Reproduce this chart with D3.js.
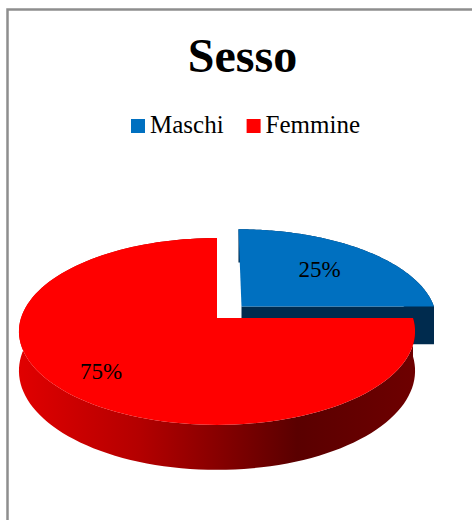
<!DOCTYPE html>
<html>
<head>
<meta charset="utf-8">
<script src="https://cdn.jsdelivr.net/npm/d3@7"></script>
<style>
html,body{margin:0;padding:0;background:#fff;}
svg{display:block;}
</style>
</head>
<body>
<svg id="chart" width="472" height="520"></svg>
<script>
// ---- data ----
const title = "Sesso";
const categories = ["Maschi", "Femmine"];
const values = [25, 75];
const labels = ["25%", "75%"];

// ---- styles ----
const color = d3.scaleOrdinal().domain(categories).range(["#0070C0", "#FF0000"]);
const sideColor = d3.scaleOrdinal().domain(categories).range(["#002B4E", "url(#redSide)"]);
const serif = "'Liberation Serif','DejaVu Serif',serif";

const svg = d3.select("#chart");

// frame
svg.append("rect").attr("x", 7.5).attr("y", 9.5).attr("width", 500).attr("height", 540)
  .attr("fill", "none").attr("stroke", "#8E8E8E").attr("stroke-width", 2.5);

// title
svg.append("text").attr("x", 242.5).attr("y", 72).attr("text-anchor", "middle")
  .attr("font-family", serif).attr("font-weight", "bold").attr("font-size", 48)
  .attr("fill", "#000").text(title);

// legend
let lx = 131;
categories.forEach((c, i) => {
  svg.append("rect").attr("x", lx).attr("y", 119).attr("width", 14).attr("height", 14).attr("fill", color(c));
  const t = svg.append("text").attr("x", lx + 19).attr("y", 133)
    .attr("font-family", serif).attr("font-size", 25).attr("fill", "#000").text(c);
  lx += 19 + t.node().getComputedTextLength() + 23;
});

// gradient for red side wall
const defs = svg.append("defs");
const g = defs.append("linearGradient").attr("id", "redSide")
  .attr("gradientUnits", "userSpaceOnUse").attr("x1", 20).attr("x2", 416).attr("y1", 0).attr("y2", 0);
[[0, "#E00000"], [0.3, "#B40000"], [0.7, "#5A0000"], [1, "#6E0000"]].forEach(s =>
  g.append("stop").attr("offset", s[0]).attr("stop-color", s[1]));

// ---- 3D projection of pie ----
const cx = 217, cy = 318, Rx = 196, A = 91.5, persp = 0.144, H = 38.5;
const explode = 0.18;
function project(X, Z, down) {
  const s = 1 / (1 + persp * Z);
  return [cx + Rx * X * s, cy - A * Z * s + H * down * s];
}

const pie = d3.pie().sort(null).value(d => d.v).startAngle(0).endAngle(2 * Math.PI);
const arcs = pie(categories.map((c, i) => ({ c, v: values[i], l: labels[i] })));
const line = d3.line();

function slicePaths(a) {
  const off = a.data.c === "Maschi" ? explode : 0;
  const mid = (a.startAngle + a.endAngle) / 2;
  const ox = off * Math.sin(mid), oz = off * Math.cos(mid);
  const n = 120;
  const angs = d3.range(n + 1).map(k => a.startAngle + (a.endAngle - a.startAngle) * k / n);
  const topArc = angs.map(t => project(ox + Math.sin(t), oz + Math.cos(t), 0));
  const botArc = angs.map(t => project(ox + Math.sin(t), oz + Math.cos(t), 1)).reverse();
  const c0 = project(ox, oz, 0), c1 = project(ox, oz, 1);
  const wall = line(topArc.concat(botArc)) + "Z";
  const top = line([c0].concat(topArc)) + "Z";
  const face = t => line([c0, project(ox + Math.sin(t), oz + Math.cos(t), 0),
    project(ox + Math.sin(t), oz + Math.cos(t), 1), c1]) + "Z";
  return { wall, top, face0: face(a.startAngle), face1: face(a.endAngle), ox, oz, mid };
}

const gPie = svg.append("g");
arcs.forEach(a => {
  const p = slicePaths(a);
  gPie.append("path").attr("d", p.wall).attr("fill", sideColor(a.data.c));
  if (a.data.c === "Maschi") {
    gPie.append("path").attr("d", p.face1).attr("fill", sideColor(a.data.c));
  }
  gPie.append("path").attr("d", p.top).attr("fill", color(a.data.c));
});

// labels
arcs.forEach(a => {
  const p = slicePaths(a);
  const r = a.data.c === "Maschi" ? 0.62 : 0.77;
  const pt = project(p.ox + r * Math.sin(p.mid), p.oz + r * Math.cos(p.mid), 0);
  svg.append("text").attr("x", pt[0]).attr("y", pt[1]).attr("dy", "0.3em")
    .attr("text-anchor", "middle").attr("font-family", serif).attr("font-size", 23)
    .attr("fill", "#000").text(a.data.l);
});
</script>
</body>
</html>
